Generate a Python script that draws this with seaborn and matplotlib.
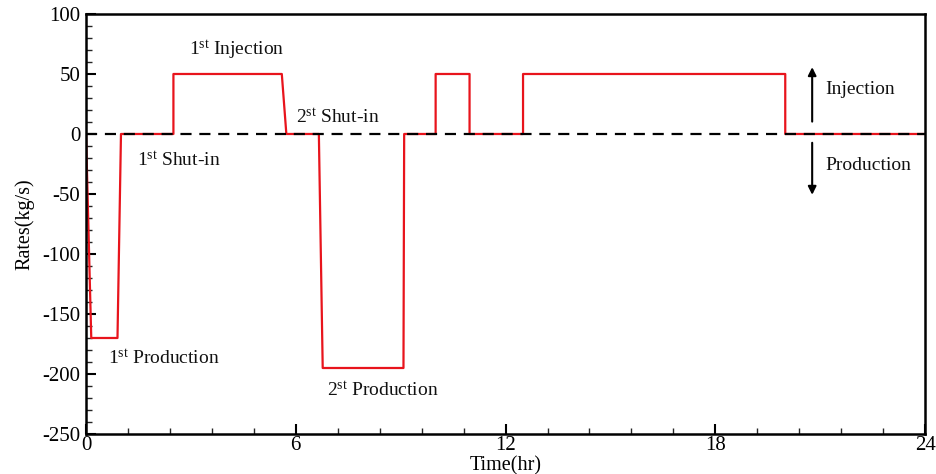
import matplotlib
matplotlib.use("Agg")
import matplotlib.pyplot as plt
import seaborn as sns
import pandas as pd

# Step schedule breakpoints (time in hr, rate in kg/s)
times = [0.0, 0.15, 0.9, 1.0, 2.5, 2.5, 5.6, 5.73, 6.66, 6.77, 9.08, 9.1,
         10.0, 10.0, 10.97, 10.97, 12.5, 12.5, 20.0, 20.0, 24.0]
rates = [0, -170, -170, 0, 0, 50, 50, 0, 0, -195, -195, 0,
         0, 50, 50, 0, 0, 50, 50, 0, 0]

x_ticks = [0, 6, 12, 18, 24]
y_ticks = [100, 50, 0, -50, -100, -150, -200, -250]

labels = ["1$\\mathregular{^{st}}$ Injection", "1$\\mathregular{^{st}}$ Shut-in",
          "2$\\mathregular{^{st}}$ Shut-in", "1$\\mathregular{^{st}}$ Production",
          "2$\\mathregular{^{st}}$ Production", "Injection", "Production"]
label_t = [2.95, 1.45, 6.0, 0.62, 6.9, 21.15, 21.15]
label_v = [70, -22, 14, -187, -214, 37, -26]

sns.set_theme(style="white")
plt.rcParams['font.family'] = ['Liberation Serif', 'DejaVu Serif']
plt.rcParams['mathtext.fontset'] = 'stix'
plt.rcParams['axes.unicode_minus'] = False

fig = plt.figure(figsize=(9.37, 4.74), dpi=100)
ax = fig.add_axes([0.0918, 0.0844, 0.8955, 0.8861])

df = pd.DataFrame({"Time": times, "Rate": rates})
sns.lineplot(data=df, x="Time", y="Rate", sort=False, estimator=None,
             color="#e8141c", lw=1.6, ax=ax, zorder=2)
ax.axhline(0, color="black", ls=(0, (5, 3.5)), lw=1.6, zorder=3)

ax.set_xlim(0, 24)
ax.set_ylim(-250, 100)
ax.set_xticks(x_ticks)
ax.set_yticks(y_ticks)
ax.set_xticks([i * 1.2 for i in range(21)], minor=True)
ax.set_yticks(list(range(-250, 101, 10)), minor=True)
ax.tick_params(axis='both', which='major', direction='in', length=7, width=1.5,
               labelsize=15, colors='black', pad=4, top=False, right=False,
               bottom=True, left=True)
ax.tick_params(axis='x', which='major', pad=1.5)
ax.tick_params(axis='both', which='minor', direction='in', length=4, width=1,
               top=False, right=False, bottom=True, left=True)
for s in ax.spines.values():
    s.set_visible(True)
    s.set_color('black')
    s.set_linewidth(1.8)

ax.set_xlabel("Time(hr)", fontsize=14.5, labelpad=0.5, color='black')
ax.set_ylabel("Rates(kg/s)", fontsize=14.5, labelpad=6, color='black')

for txt, t, v in zip(labels, label_t, label_v):
    ax.text(t, v, txt, fontsize=14, ha='left', va='center', color='#111111')

ax.annotate("", xy=(20.77, 58), xytext=(20.77, 8),
            arrowprops=dict(arrowstyle="-|>", color="black", lw=1.5, mutation_scale=12))
ax.annotate("", xy=(20.77, -53), xytext=(20.77, -5),
            arrowprops=dict(arrowstyle="-|>", color="black", lw=1.5, mutation_scale=12))

fig.savefig("out.png", dpi=100)
